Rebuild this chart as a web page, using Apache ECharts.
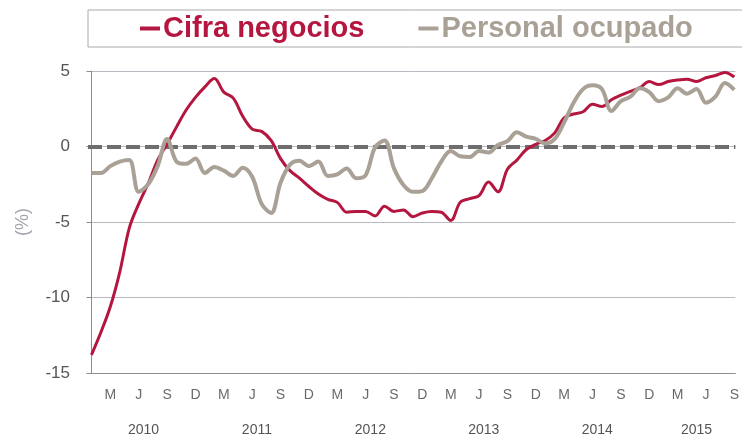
<!DOCTYPE html>
<html>
<head>
<meta charset="utf-8">
<script src="https://cdn.jsdelivr.net/npm/echarts@6/dist/echarts.min.js"></script>
<style>
  html, body { margin: 0; padding: 0; background: #fff; }
  #chart { width: 742px; height: 440px; }
</style>
</head>
<body>
<div id="chart"></div>
<script>
// monthly values, index 0 = Jan 2010 ... 68 = Sep 2015
const cifraNegocios = [
  -13.8, -12.3, -10.6, -8.3, -5.4, -3.8, -2.45, -0.9, 0.15, 1.3, 2.4, 3.25,
  3.95, 4.5, 3.6, 3.2, 2.0, 1.15, 1.0, 0.4, -0.8, -1.6, -2.1, -2.65,
  -3.15, -3.5, -3.7, -4.35, -4.3, -4.3, -4.6, -3.95, -4.3, -4.2, -4.65, -4.4,
  -4.3, -4.35, -4.9, -3.7, -3.45, -3.25, -2.35, -3.0, -1.5, -0.9, -0.2, 0.15,
  0.4, 0.9, 1.9, 2.15, 2.3, 2.8, 2.65, 3.1, 3.4, 3.65, 3.9, 4.3,
  4.1, 4.3, 4.4, 4.45, 4.3, 4.55, 4.7, 4.9, 4.6
]
const personalOcupado = [
  -1.75, -1.75, -1.3, -1.0, -0.9, -3.0, -2.5, -1.3, 0.5, -1.0, -1.15, -0.8,
  -1.75, -1.35, -1.6, -1.95, -1.4, -2.0, -3.8, -4.4, -2.4, -1.2, -0.95, -1.3,
  -1.0, -1.95, -1.85, -1.45, -2.1, -1.9, -0.05, 0.4, -1.45, -2.55, -3.0, -2.95,
  -2.1, -1.0, -0.3, -0.65, -0.7, -0.3, -0.4, 0.1, 0.35, 0.95, 0.65, 0.5,
  0.2, 0.5, 1.6, 2.9, 3.8, 4.05, 3.8, 2.35, 3.0, 3.3, 3.85, 3.6,
  3.0, 3.25, 3.85, 3.5, 3.8, 2.9, 3.3, 4.2, 3.75
]

const seriesNames = ['Cifra negocios', 'Personal ocupado']
const monthTicks = [2, 5, 8, 11, 14, 17, 20, 23, 26, 29, 32, 35, 38, 41, 44, 47, 50, 53, 56, 59, 62, 65, 68]
const monthLetters = ['M', 'J', 'S', 'D']
const yearTicks = [5.5, 17.5, 29.5, 41.5, 53.5, 64]
const yearLabels = ['2010', '2011', '2012', '2013', '2014', '2015']

const RED = '#b5163f'
const GREY = '#a9a196'

const toPoints = (arr) => arr.map((v, i) => [i, v])

const chart = echarts.init(document.getElementById('chart'), null, { renderer: 'canvas' })

const xMin = -0.366
const xMax = 68.11

chart.setOption({
  backgroundColor: '#fff',
  animation: false,
  legend: {
    orient: 'horizontal',
    left: 88,
    top: 10,
    width: 1200,
    padding: [4, 320, 4, 52],
    borderColor: '#aaaaaa',
    borderWidth: 1,
    itemGap: 54,
    itemWidth: 20,
    itemHeight: 4,
    icon: 'rect',
    textStyle: {
      fontFamily: 'Liberation Sans, Arial, sans-serif',
      fontWeight: 'bold',
      fontSize: 29,
      lineHeight: 29,
      padding: [0, 0, 0, -2]
    },
    data: [
      { name: seriesNames[0], textStyle: { color: RED } },
      { name: seriesNames[1], textStyle: { color: GREY } }
    ]
  },
  grid: {
    left: 88,
    right: 0,
    top: 71,
    bottom: 67,
    containLabel: false
  },
  xAxis: [
    {
      type: 'value',
      min: xMin,
      max: xMax,
      axisLine: { show: true, onZero: false, lineStyle: { color: '#8c8c94', width: 1 } },
      axisTick: { show: false },
      splitLine: { show: false },
      axisLabel: {
        customValues: monthTicks,
        margin: 15,
        color: '#6a6a6a',
        fontSize: 14,
        fontFamily: 'Liberation Sans, Arial, sans-serif',
        formatter: (v) => monthLetters[Math.round((v - 2) / 3) % 4]
      }
    },
    {
      type: 'value',
      min: xMin,
      max: xMax,
      position: 'bottom',
      axisLine: { show: false },
      axisTick: { show: false },
      splitLine: { show: false },
      axisLabel: {
        customValues: yearTicks,
        margin: 50,
        color: '#555',
        fontSize: 14,
        fontFamily: 'Liberation Sans, Arial, sans-serif',
        formatter: (v) => yearLabels[yearTicks.indexOf(v)]
      }
    }
  ],
  yAxis: {
    type: 'value',
    min: -15,
    max: 5,
    interval: 5,
    name: '(%)',
    nameLocation: 'middle',
    nameGap: 56,
    nameRotate: 90,
    nameTextStyle: {
      color: '#a4a4ac',
      fontSize: 18,
      fontFamily: 'Liberation Sans, Arial, sans-serif'
    },
    axisLine: { show: true, lineStyle: { color: '#8c8c94', width: 1 } },
    axisTick: { show: true, length: 5, lineStyle: { color: '#8c8c94' } },
    splitLine: { show: true, lineStyle: { color: '#b9b9c1', width: 1 } },
    axisLabel: {
      margin: 18,
      color: '#555',
      fontSize: 17,
      fontFamily: 'Liberation Sans, Arial, sans-serif'
    }
  },
  series: [
    {
      name: seriesNames[0],
      type: 'line',
      data: toPoints(cifraNegocios),
      smooth: 0.35,
      showSymbol: false,
      lineStyle: { color: RED, width: 3 },
      itemStyle: { color: RED },
      z: 3,
      markLine: {
        silent: true,
        symbol: 'none',
        label: { show: false },
        lineStyle: { color: '#6e6e6e', width: 4, type: [14, 5] },
        data: [{ yAxis: 0 }],
        z: 1
      }
    },
    {
      name: seriesNames[1],
      type: 'line',
      data: toPoints(personalOcupado),
      smooth: 0.35,
      showSymbol: false,
      lineStyle: { color: GREY, width: 4 },
      itemStyle: { color: GREY },
      z: 4
    }
  ]
})
</script>
</body>
</html>
